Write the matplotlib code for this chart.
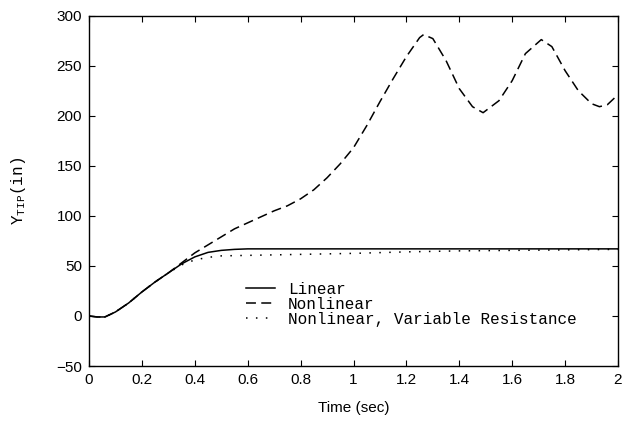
import numpy as np
import matplotlib
matplotlib.use('Agg')
import matplotlib.pyplot as plt

# Data
t_lin = [0, 0.03, 0.06, 0.1, 0.15, 0.2, 0.25, 0.3, 0.35, 0.4, 0.45, 0.5, 0.55, 0.6,
         0.8, 1.0, 1.5, 2.0]
y_lin = [0, -1, -1, 4, 13, 24, 34, 43, 52, 59, 63.5, 65.5, 66.5, 67,
         67, 67, 67, 67]

t_nl = [0, 0.03, 0.06, 0.1, 0.15, 0.2, 0.25, 0.3, 0.35, 0.4, 0.45, 0.5, 0.55, 0.6,
        0.65, 0.7, 0.75, 0.8, 0.85, 0.9, 0.95, 1.0, 1.05, 1.1, 1.15, 1.2, 1.25,
        1.265, 1.3, 1.35, 1.4, 1.45, 1.49, 1.55, 1.6, 1.65, 1.71, 1.75, 1.8,
        1.85, 1.9, 1.93, 1.96, 2.0]
y_nl = [0, -1, -1, 4, 13, 24, 34, 43, 53, 63, 71, 79, 87, 93,
        99, 105, 110, 117, 126, 138, 152, 168, 190, 214, 237, 259, 278,
        281, 277, 255, 227, 209, 203, 215, 235, 262, 276, 269, 245,
        225, 212, 209, 211, 221]

t_vr = [0, 0.03, 0.06, 0.1, 0.15, 0.2, 0.25, 0.3, 0.35, 0.4, 0.45, 0.5, 0.6,
        0.8, 1.0, 1.2, 1.4, 1.6, 1.8, 2.0]
y_vr = [0, -1, -1, 4, 13, 24, 34, 43, 51, 56, 58.5, 60, 60.5,
        61.5, 62.5, 64, 65, 65.5, 66, 66.5]

labels = ['Linear', 'Nonlinear', 'Nonlinear, Variable Resistance']

plt.rcParams['font.family'] = 'Liberation Sans'
plt.rcParams['mathtext.fontset'] = 'custom'
plt.rcParams['mathtext.rm'] = 'Liberation Mono'

fig = plt.figure(figsize=(6.27, 4.21), dpi=100)
ax = fig.add_axes([0.142, 0.1306, 0.8436, 0.8324])

ax.plot(t_lin, y_lin, color='black', lw=1.1, label=labels[0])
ax.plot(t_nl, y_nl, color='black', lw=1.1, linestyle=(0, (6.5, 3.5)), label=labels[1])
ax.plot(t_vr, y_vr, color='black', lw=1.1, linestyle=(0, (1, 5.5)), label=labels[2])

ax.set_xlim(0, 2)
ax.set_ylim(-50, 300)
ax.set_xticks(np.arange(0, 2.01, 0.2))
ax.set_xticklabels(['0', '0.2', '0.4', '0.6', '0.8', '1', '1.2', '1.4', '1.6', '1.8', '2'])
ax.set_yticks(np.arange(-50, 301, 50))
ax.tick_params(direction='in', top=True, right=True, length=4, width=0.8,
               labelsize=11, pad=5)
for s in ax.spines.values():
    s.set_linewidth(1.0)

ax.set_xlabel('Time (sec)', fontsize=11, labelpad=10)
ax.set_ylabel(r'Y$_{\rm TIP}$(in)', fontsize=11.5, family='Liberation Mono', labelpad=20)

leg = ax.legend(loc='upper left', bbox_to_anchor=(0.285, 0.258), frameon=False,
                prop={'family': 'Liberation Mono', 'size': 11.5},
                handlelength=1.8, handletextpad=0.8, labelspacing=0.0,
                borderaxespad=0)

fig.savefig('out.png', dpi=100)
